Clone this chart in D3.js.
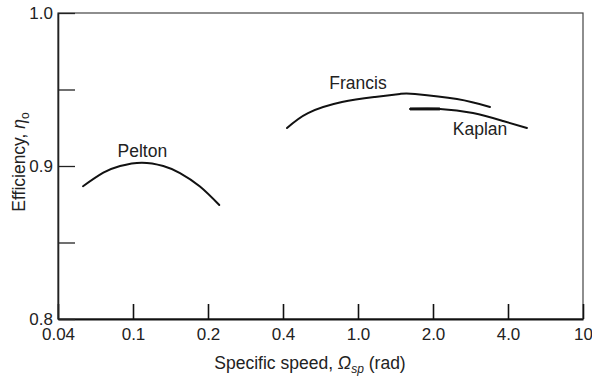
<!DOCTYPE html>
<html>
<head>
<meta charset="utf-8">
<script src="https://cdn.jsdelivr.net/npm/d3@7"></script>
<style>
  body { margin: 0; background: #fff; }
  text { font-family: "Liberation Sans", Arial, sans-serif; fill: #222; }
</style>
</head>
<body>
<div id="chart"></div>
<script>
const width = 592
const height = 378
const margin = { top: 13, right: 9, bottom: 59, left: 58 }

// x ticks (evenly spaced on the original chart)
const xTicks = [0.04, 0.1, 0.2, 0.4, 1.0, 2.0, 4.0, 10]
const xTickLabels = ["0.04", "0.1", "0.2", "0.4", "1.0", "2.0", "4.0", "10"]
const yTicks = [0.8, 0.85, 0.9, 0.95, 1.0]
const yTickLabels = ["0.8", "", "0.9", "", "1.0"]

// curves
const peltonX = [0.0543, 0.0696, 0.0854, 0.1084, 0.1323, 0.1544, 0.1857, 0.222]
const peltonY = [0.8868, 0.8956, 0.9, 0.9022, 0.9, 0.8954, 0.8866, 0.8745]

const francisX = [0.420, 0.543, 0.822, 1.170, 1.474, 1.693, 2.496, 3.387]
const francisY = [0.9248, 0.9346, 0.9418, 0.9451, 0.9471, 0.9471, 0.9438, 0.9386]

const kaplanX = [1.617, 2.132, 2.894, 3.82, 5.04]
const kaplanY = [0.9373, 0.9373, 0.9346, 0.9294, 0.9248]

const labels = [
    { name: "Pelton", x: 0.109, y: 0.9059 },
    { name: "Francis", x: 1.0, y: 0.9503 },
    { name: "Kaplan", x: 3.09, y: 0.9203 }
]

const plotW = width - margin.left - margin.right
const plotH = height - margin.top - margin.bottom

/* SCALES */
const step = plotW / (xTicks.length - 1)
const xScale = d3.scaleLog()
    .domain(xTicks)
    .range(xTicks.map((d, i) => margin.left + i * step))

const yScale = d3.scaleLinear()
    .domain([0.8, 1.0])
    .range([height - margin.bottom, margin.top])

const svg = d3.select("#chart")
    .append("svg")
    .attr("width", width)
    .attr("height", height)

// frame (top + right are thin grey)
svg.append("rect")
    .attr("x", margin.left)
    .attr("y", margin.top)
    .attr("width", plotW)
    .attr("height", plotH)
    .attr("fill", "none")
    .attr("stroke", "#444")
    .attr("stroke-width", 1.2)

// axes
const xAxisGroup = svg.append("g")
    .attr("transform", `translate(0, ${height - margin.bottom})`)
    .call(d3.axisBottom(xScale)
        .tickValues(xTicks)
        .tickFormat((d, i) => xTickLabels[i])
        .tickSize(-15)
        .tickSizeOuter(0)
        .tickPadding(9))

xAxisGroup.select(".domain").attr("stroke", "#111").attr("stroke-width", 2)
xAxisGroup.selectAll(".tick line").attr("stroke", "#111").attr("stroke-width", 1.6)
xAxisGroup.selectAll(".tick text")
    .style("font-size", "17px")
    .style("font-family", "'Liberation Sans', Arial, sans-serif")
    .attr("fill", "#333")

const yAxisGroup = svg.append("g")
    .attr("transform", `translate(${margin.left}, 0)`)
    .call(d3.axisLeft(yScale)
        .tickValues(yTicks)
        .tickFormat((d, i) => yTickLabels[i])
        .tickSize(-17)
        .tickSizeOuter(0)
        .tickPadding(5))

yAxisGroup.select(".domain").attr("stroke", "#222").attr("stroke-width", 1.6)
yAxisGroup.selectAll(".tick line").attr("stroke", "#222").attr("stroke-width", 1.3)
yAxisGroup.selectAll(".tick text")
    .style("font-size", "17px")
    .style("font-family", "'Liberation Sans', Arial, sans-serif")
    .attr("fill", "#333")

// curves
const line = d3.line()
    .x(d => xScale(d[0]))
    .y(d => yScale(d[1]))
    .curve(d3.curveNatural)

const series = [
    d3.zip(peltonX, peltonY),
    d3.zip(francisX, francisY),
    d3.zip(kaplanX, kaplanY)
]

svg.selectAll("path.curve")
    .data(series)
    .join("path")
    .attr("class", "curve")
    .attr("d", line)
    .attr("fill", "none")
    .attr("stroke", "#111")
    .attr("stroke-width", 2)
    .attr("stroke-linecap", "round")

// thick start of kaplan line
svg.append("path")
    .attr("d", d3.line().x(d => xScale(d[0])).y(d => yScale(d[1]))(d3.zip(kaplanX, kaplanY).slice(0, 2)))
    .attr("stroke", "#111")
    .attr("stroke-width", 3)

// curve names
svg.selectAll("text.name")
    .data(labels)
    .join("text")
    .attr("class", "name")
    .attr("x", d => xScale(d.x))
    .attr("y", d => yScale(d.y))
    .attr("text-anchor", "middle")
    .style("font-size", "17.5px")
    .text(d => d.name)

// axis titles
const xTitle = svg.append("text")
    .attr("x", 310)
    .attr("y", 369)
    .attr("text-anchor", "middle")
    .style("font-size", "17.5px")
xTitle.append("tspan").text("Specific speed, ")
xTitle.append("tspan").style("font-style", "italic").text("Ω")
xTitle.append("tspan").style("font-style", "italic").style("font-size", "12px").attr("dy", 4).text("sp")
xTitle.append("tspan").attr("dy", -4).text(" (rad)")

const yTitle = svg.append("text")
    .attr("transform", "translate(25, 162) rotate(-90)")
    .attr("text-anchor", "middle")
    .style("font-size", "17.5px")
yTitle.append("tspan").text("Efficiency, ")
yTitle.append("tspan").style("font-style", "italic").text("η")
yTitle.append("tspan").style("font-size", "12px").attr("dy", 4).text("o")
</script>
</body>
</html>
